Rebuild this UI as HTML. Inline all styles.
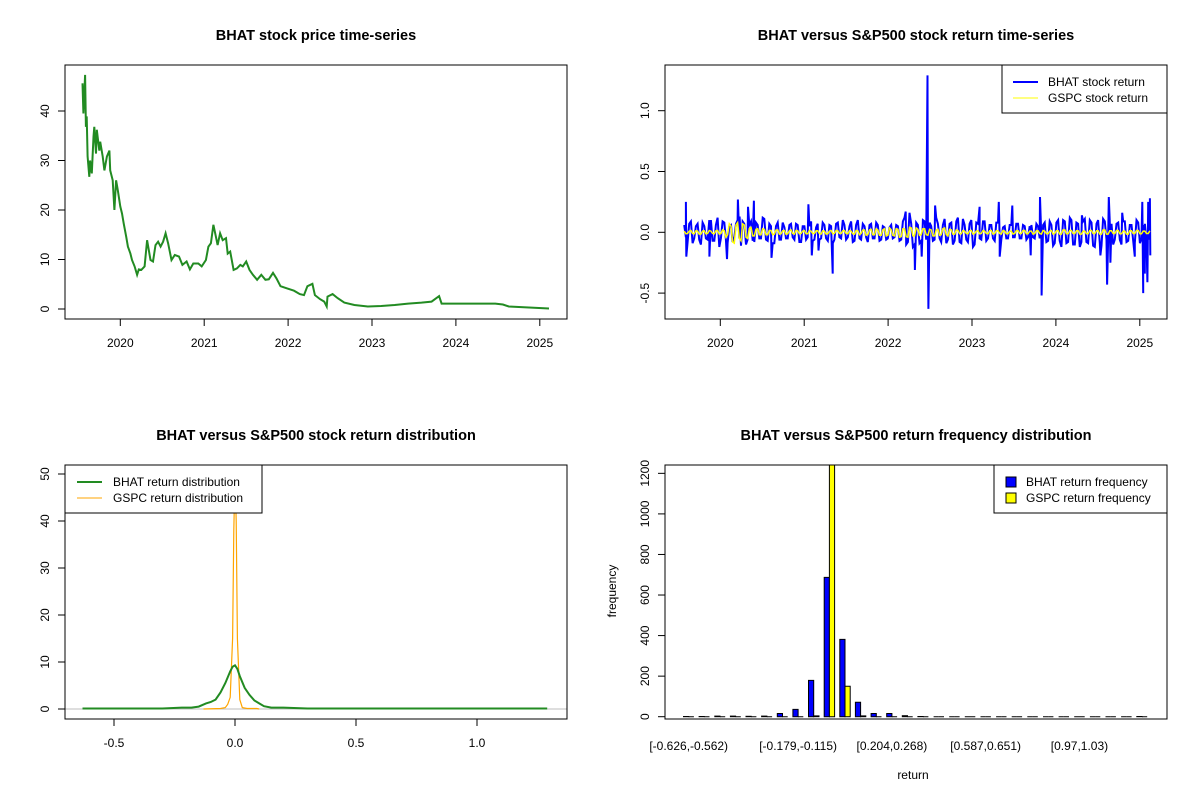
<!DOCTYPE html>
<html><head><meta charset="utf-8">
<style>
html,body{margin:0;padding:0;background:#fff;}
svg{display:block;font-family:"Liberation Sans",Arial,sans-serif;}
</style></head>
<body>
<svg id="root" width="1200" height="800" viewBox="0 0 1200 800" xmlns="http://www.w3.org/2000/svg"></svg>
<script>
// ---------- Panel 1: price ----------
const priceDates=[2019.55,2019.56,2019.58,2019.59,2019.60,2019.61,2019.63,2019.64,2019.66,2019.68,2019.69,2019.71,2019.72,2019.75,2019.76,2019.79,2019.81,2019.84,2019.87,2019.88,2019.91,2019.93,2019.95,2019.97,2020.00,2020.02,2020.04,2020.07,2020.09,2020.12,2020.14,2020.17,2020.20,2020.22,2020.25,2020.29,2020.32,2020.36,2020.39,2020.42,2020.45,2020.48,2020.51,2020.54,2020.57,2020.61,2020.65,2020.70,2020.74,2020.79,2020.83,2020.87,2020.93,2020.97,2021.02,2021.05,2021.08,2021.11,2021.14,2021.16,2021.19,2021.22,2021.26,2021.28,2021.31,2021.35,2021.39,2021.43,2021.46,2021.50,2021.54,2021.58,2021.63,2021.68,2021.73,2021.77,2021.82,2021.86,2021.91,2021.98,2022.07,2022.14,2022.19,2022.23,2022.29,2022.32,2022.38,2022.43,2022.46,2022.47,2022.53,2022.59,2022.67,2022.79,2022.95,2023.11,2023.27,2023.43,2023.59,2023.71,2023.80,2023.83,2023.99,2024.23,2024.47,2024.56,2024.63,2024.87,2025.11];
const priceValues=[45.6,39.5,47.3,36.8,38.9,30.8,26.7,30,27.4,34.8,36.8,31.4,36.2,32,33.8,30.8,28,30.8,32,28,26,20,26,24,20.7,19.3,17.3,14.6,12.6,11.2,9.9,8.6,6.9,8,7.9,8.6,13.9,9.9,9.6,12.9,13.6,12.6,13.6,15.3,13.3,9.9,10.9,10.6,8.9,9.6,8,9.2,9.2,8.6,9.9,12.6,13.3,17,14.6,12.9,15.3,13.9,14.3,11.2,11.6,7.9,8.2,8.9,8.6,9.6,7.9,6.9,5.9,6.9,5.9,6,7.3,6.2,4.6,4.2,3.7,3,2.8,4.6,5.1,2.8,2,1.5,0.5,2.5,3,2.2,1.3,0.8,0.5,0.6,0.8,1.1,1.3,1.5,2.6,1.1,1.1,1.1,1.1,0.9,0.5,0.3,0.1];
const priceTicksY=[0,10,20,30,40];
const yearTicks=[2020,2021,2022,2023,2024,2025];

// ---------- Panel 2: returns ----------
const bhatBaseA=[0.06,-0.08,0.09,-0.05,0.07,-0.1,0.05,-0.06,0.1,-0.07,0.12,-0.05,0.08,-0.09,0.06,-0.04,0.1,-0.11,0.07,-0.06,0.09,-0.08,0.06,-0.05,0.11,-0.07,0.05,-0.09,0.08,-0.06,0.04,-0.05,0.07,-0.06,0.06,-0.08,0.05,-0.04,0.09,-0.06,0.07,-0.05,0.06,-0.07,0.05,-0.06,0.08,-0.05,0.06,-0.04,0.09,-0.07,0.1,-0.06,0.05,-0.08,0.07,-0.05,0.06,-0.06,0.04,-0.05,0.06,-0.04,0.05,-0.06,0.12,-0.08,0.07,-0.1,0.06,-0.07,0.09,-0.05,0.05,-0.06,0.07,-0.08,0.11,-0.06,0.08,-0.07,0.12,-0.09,0.06,-0.08,0.1,-0.1,0.07,-0.06,0.09,-0.05,0.06,-0.07,0.08,-0.06,0.05,-0.05,0.06,-0.04,0.07,-0.05,0.05,-0.04,0.06,-0.05,0.05,-0.06,0.08,-0.07,0.06,-0.09,0.1,-0.12,0.09,-0.08,0.1,-0.1,0.07,-0.08,0.11,-0.09,0.08,-0.12,0.1,-0.11,0.09,-0.08,0.07,-0.06,0.08,-0.1,0.09,-0.07,0.06,-0.09,0.08,-0.05,0.07,-0.06];
const bhatBaseB=[-0.04,0.07,-0.09,0.05,-0.06,0.08,-0.05,0.1,-0.07,0.06,-0.12,0.09,-0.06,0.05,-0.08,0.07,-0.05,0.09,-0.1,0.06,-0.07,0.08,-0.05,0.12,-0.06,0.07,-0.09,0.05,-0.06,0.08,-0.05,0.06,-0.04,0.07,-0.08,0.05,-0.06,0.05,-0.07,0.04,-0.06,0.08,-0.05,0.06,-0.09,0.07,-0.04,0.1,-0.06,0.05,-0.08,0.06,-0.05,0.07,-0.04,0.06,-0.05,0.08,-0.07,0.05,-0.06,0.04,-0.05,0.06,-0.07,0.09,-0.1,0.16,-0.12,0.08,-0.09,0.1,-0.06,0.08,-0.07,0.12,-0.05,0.06,-0.09,0.07,-0.1,0.09,-0.08,0.11,-0.06,0.07,-0.12,0.08,-0.05,0.09,-0.07,0.06,-0.05,0.08,-0.06,0.04,-0.05,0.06,-0.04,0.07,-0.05,0.06,-0.06,0.05,-0.04,0.07,-0.05,0.06,-0.08,0.09,-0.11,0.08,-0.07,0.1,-0.09,0.12,-0.1,0.08,-0.12,0.09,-0.08,0.1,-0.11,0.07,-0.09,0.11,-0.06,0.08,-0.1,0.07,-0.06,0.09,-0.08,0.06,-0.07,0.1,-0.09,0.06,-0.08,0.07];
const bhatSpikeDates=[2019.59,2019.595,2019.87,2020.08,2020.21,2020.23,2020.33,2020.40,2020.61,2021.05,2021.09,2021.17,2021.34,2022.21,2022.32,2022.40,2022.47,2022.48,2022.56,2023.09,2023.32,2023.33,2023.48,2023.70,2023.81,2023.83,2024.31,2024.53,2024.61,2024.63,2024.65,2024.79,2024.94,2025.03,2025.04,2025.06,2025.09,2025.10,2025.12,2025.125];
const bhatSpikeValues=[0.25,-0.20,-0.20,-0.22,0.27,0.13,0.21,0.26,-0.21,0.23,-0.19,-0.15,-0.34,0.17,-0.31,-0.20,1.29,-0.63,0.22,0.21,0.25,-0.20,0.22,-0.19,0.29,-0.52,0.14,-0.19,-0.43,0.29,-0.25,0.16,-0.20,0.25,-0.50,-0.34,-0.41,0.25,0.28,-0.19];
const gspcBaseA=[0.01,-0.01,0.015,-0.012,0.01,-0.015,0.012,-0.01,0.01,-0.012,0.015,-0.01,0.012,-0.02,0.05,-0.09,0.08,-0.07,0.06,-0.05,0.04,-0.03,0.03,-0.02,0.025,-0.02,0.015,-0.015,0.02,-0.012,0.015,-0.012,0.02,-0.015,0.012,-0.01,0.015,-0.012,0.01,-0.01,0.012,-0.015,0.01,-0.012,0.015,-0.01,0.012,-0.01,0.015,-0.012,0.01,-0.015,0.012,-0.01,0.02,-0.02,0.025,-0.02,0.02,-0.025,0.03,-0.025,0.02,-0.03,0.025,-0.035,0.03,-0.04,0.035,-0.03,0.025,-0.02,0.03,-0.025,0.02,-0.03,0.025,-0.02,0.035,-0.03,0.02,-0.015,0.015,-0.012,0.01,-0.012,0.015,-0.01,0.012,-0.01,0.01,-0.012,0.015,-0.01,0.012,-0.015,0.01,-0.012,0.01,-0.01,0.012,-0.01,0.015,-0.012,0.01,-0.01,0.012,-0.015,0.01,-0.012,0.015,-0.01,0.012,-0.015,0.02,-0.012,0.015,-0.01,0.012,-0.015,0.01,-0.012,0.015,-0.01,0.012,-0.015,0.02,-0.015,0.012,-0.01,0.015,-0.012,0.01,-0.015,0.012,-0.01,0.015,-0.012,0.01,-0.01];
const gspcBaseB=[-0.012,0.01,-0.01,0.012,-0.015,0.01,-0.012,0.015,-0.01,0.012,-0.015,0.02,-0.04,0.07,-0.08,0.06,-0.05,0.07,-0.04,0.03,-0.03,0.025,-0.02,0.03,-0.02,0.015,-0.02,0.018,-0.015,0.012,-0.015,0.012,-0.01,0.015,-0.012,0.01,-0.012,0.015,-0.01,0.012,-0.01,0.012,-0.015,0.01,-0.012,0.015,-0.01,0.012,-0.01,0.015,-0.012,0.015,-0.02,0.018,-0.025,0.02,-0.02,0.03,-0.025,0.02,-0.03,0.035,-0.025,0.03,-0.04,0.03,-0.035,0.04,-0.03,0.035,-0.025,0.03,-0.02,0.025,-0.03,0.02,-0.025,0.03,-0.02,0.025,-0.015,0.02,-0.012,0.015,-0.01,0.012,-0.015,0.01,-0.012,0.015,-0.01,0.012,-0.015,0.012,-0.01,0.015,-0.012,0.01,-0.015,0.012,-0.01,0.015,-0.012,0.01,-0.015,0.012,-0.01,0.015,-0.012,0.01,-0.015,0.012,-0.015,0.02,-0.012,0.015,-0.01,0.012,-0.015,0.01,-0.012,0.015,-0.01,0.012,-0.015,0.02,-0.015,0.012,-0.01,0.015,-0.012,0.01,-0.015,0.012,-0.01,0.015,-0.012,0.01,-0.01,0.012];
const returnStart=2019.57, returnEnd=2025.12;
const returnTicksY=[-0.5,0.0,0.5,1.0];

// ---------- Panel 3: densities ----------
const bhatDensX=[-0.63,-0.3,-0.22,-0.18,-0.15,-0.12,-0.1,-0.08,-0.06,-0.04,-0.02,-0.01,0,0.01,0.02,0.04,0.06,0.08,0.1,0.12,0.15,0.2,0.3,0.5,1.0,1.29];
const bhatDensY=[0.1,0.1,0.3,0.3,0.5,1.2,1.5,2,3.5,5.5,8,9,9.3,8.5,7,4.5,3,1.8,1.2,0.6,0.3,0.3,0.1,0.1,0.1,0.1];
const gspcDensX=[-0.13,-0.06,-0.04,-0.03,-0.02,-0.01,-0.005,0,0.005,0.01,0.02,0.03,0.05,0.09,0.1];
const gspcDensY=[0,0.1,0.3,1,2.5,15,38,50,40,15,2,0.3,0.1,0.1,0];
const densTicksX=[-0.5,0.0,0.5,1.0];
const densTicksY=[0,10,20,30,40,50];

// ---------- Panel 4: histogram ----------
const binLabels=["[-0.626,-0.562)","[-0.179,-0.115)","[0.204,0.268)","[0.587,0.651)","[0.97,1.03)"];
const binLabelIdx=[0,7,13,19,25];
const bhatCounts=[1,1,3,3,2,3,16,36,179,687,381,71,16,16,5,1,0,0,0,0,0,0,0,0,0,0,0,0,0,1];
const gspcCounts=[0,0,0,0,0,0,0,0,4,1260,150,4,0,0,0,0,0,0,0,0,0,0,0,0,0,0,0,0,0,0];
const histTicksY=[0,200,400,600,800,1000,1200];

const NS="http://www.w3.org/2000/svg";
const root=document.getElementById('root');
function mk(tag,attrs,parent){const e=document.createElementNS(NS,tag);for(const k in attrs)e.setAttribute(k,attrs[k]);(parent||root).appendChild(e);return e;}
function txt(x,y,s,opts,parent){const t=mk('text',Object.assign({x:x,y:y,'font-size':12,'text-anchor':'middle',fill:'#000'},opts||{}),parent);t.textContent=s;return t;}

function panel(name){
  const g=mk('g',{});
  
  
  return g;
}
const BW=502,BH=254;
function box(g,x,y){const r=mk('rect',{x:x,y:y,width:BW,height:BH,fill:'none',stroke:'#000','stroke-width':1},g);}
function clip(id,x,y){const c=mk('clipPath',{id:id});mk('rect',{x:x,y:y,width:BW,height:BH},c);}

function xTick(g,x,y0,label,dy){const l=mk('line',{x1:x,y1:y0,x2:x,y2:y0+7,stroke:'#000'},g);
  const t=txt(x,y0+dy,label,{},g);}
function yTick(g,x0,y,label){const l=mk('line',{x1:x0-7,y1:y,x2:x0,y2:y,stroke:'#000'},g);
  const t=txt(0,0,label,{transform:'translate('+(x0-20)+','+y+') rotate(-90)',dy:4},g);}
function title(g,x,y,s){const t=txt(x,y,s,{'font-size':14.5,'font-weight':'bold'},g);}

// ===== Panel 1 =====
(function(){
  const g=panel('price-panel');
  const L=65,T=65;
  const xs=d=>120.3+(d-2020)*83.9;
  const ys=v=>309-v*4.95;
  title(g,316,40,'BHAT stock price time-series');
  clip('c1',L,T);
  let pts=priceDates.map((d,i)=>xs(d).toFixed(1)+','+ys(priceValues[i]).toFixed(1)).join(' ');
  const pl=mk('polyline',{points:pts,fill:'none',stroke:'#228B22','stroke-width':2,'clip-path':'url(#c1)'},g);
  
  
  box(g,L,T);
  yearTicks.forEach(y=>xTick(g,xs(y),T+BH,String(y),28));
  priceTicksY.forEach(v=>yTick(g,L,ys(v),String(v)));
})();

// ===== Panel 2 =====
(function(){
  const g=panel('return-panel');
  const L=665,T=65;
  const xs=d=>720.3+(d-2020)*83.9;
  const ys=v=>232.3-v*121.6;
  title(g,916,40,'BHAT versus S&P500 stock return time-series');
  clip('c2',L,T);
  const n=bhatBaseA.length*2;
  const dt=i=>returnStart+(returnEnd-returnStart)*i/(n-1);
  let bp=[];
  bhatBaseA.forEach((v,i)=>bp.push([dt(2*i),v]));
  bhatBaseB.forEach((v,i)=>bp.push([dt(2*i+1),v]));
  bhatSpikeDates.forEach((d,i)=>bp.push([d,bhatSpikeValues[i]]));
  bp.sort((a,b)=>a[0]-b[0]);
  const bl=mk('polyline',{points:bp.map(p=>xs(p[0]).toFixed(1)+','+ys(p[1]).toFixed(1)).join(' '),fill:'none',stroke:'#0000FF','stroke-width':2,'clip-path':'url(#c2)'},g);
  
  
  const m=gspcBaseA.length*2;
  const dg=i=>returnStart+(returnEnd-returnStart)*i/(m-1);
  let gp=[];
  gspcBaseA.forEach((v,i)=>gp.push([dg(2*i),v]));
  gspcBaseB.forEach((v,i)=>gp.push([dg(2*i+1),v]));
  gp.sort((a,b)=>a[0]-b[0]);
  const gl=mk('polyline',{points:gp.map(p=>xs(p[0]).toFixed(1)+','+ys(p[1]).toFixed(1)).join(' '),fill:'none',stroke:'#FFFF00','stroke-width':1.5,'clip-path':'url(#c2)'},g);
  
  
  box(g,L,T);
  yearTicks.forEach(y=>xTick(g,xs(y),T+BH,String(y),28));
  returnTicksY.forEach(v=>yTick(g,L,ys(v),v.toFixed(1)));
  const lg=mk('g',{},g);
  
  
  mk('rect',{x:1002,y:65,width:165,height:48,fill:'#fff',stroke:'#000'},lg);
  const l1=mk('line',{x1:1013,y1:82,x2:1038,y2:82,stroke:'#0000FF','stroke-width':2},lg);
  
  const l2=mk('line',{x1:1013,y1:98,x2:1038,y2:98,stroke:'#FFFF00','stroke-width':1},lg);
  
  txt(1048,86,'BHAT stock return',{'text-anchor':'start'},lg);
  txt(1048,102,'GSPC stock return',{'text-anchor':'start'},lg);
})();

// ===== Panel 3 =====
(function(){
  const g=panel('density-panel');
  const L=65,T=465;
  const xs=v=>235+v*242;
  const ys=v=>709-v*4.7;
  title(g,316,440,'BHAT versus S&P500 stock return distribution');
  clip('c3',L,T);
  const z=mk('line',{x1:L,y1:ys(0),x2:L+BW,y2:ys(0),stroke:'#BEBEBE'},g);
  
  
  const gl=mk('polyline',{points:gspcDensX.map((x,i)=>xs(x).toFixed(1)+','+ys(gspcDensY[i]).toFixed(1)).join(' '),fill:'none',stroke:'#FFA500','stroke-width':1.2,'clip-path':'url(#c3)'},g);
  
  
  const bl=mk('polyline',{points:bhatDensX.map((x,i)=>xs(x).toFixed(1)+','+ys(bhatDensY[i]).toFixed(1)).join(' '),fill:'none',stroke:'#228B22','stroke-width':2,'clip-path':'url(#c3)'},g);
  
  
  box(g,L,T);
  densTicksX.forEach(v=>xTick(g,xs(v),T+BH,v.toFixed(1),28));
  densTicksY.forEach(v=>yTick(g,L,ys(v),String(v)));
  const lg=mk('g',{},g);
  
  
  mk('rect',{x:65,y:465,width:197,height:48,fill:'#fff',stroke:'#000'},lg);
  const l1=mk('line',{x1:77,y1:482,x2:102,y2:482,stroke:'#228B22','stroke-width':2},lg);
  
  const l2=mk('line',{x1:77,y1:498,x2:102,y2:498,stroke:'#FFA500','stroke-width':1},lg);
  
  txt(113,486,'BHAT return distribution',{'text-anchor':'start'},lg);
  txt(113,502,'GSPC return distribution',{'text-anchor':'start'},lg);
})();

// ===== Panel 4 =====
(function(){
  const g=panel('histogram-panel');
  const L=665,T=465;
  const xu=u=>688.7+(u-2)*5.21;
  const ys=v=>716.7-v*0.2028;
  const W=5.21;
  title(g,916,440,'BHAT versus S&P500 return frequency distribution');
  clip('c4',L,T);
  function bar(x,c,fill){
    const y0=ys(0),y1=ys(c);
    return mk('path',{d:'M'+x.toFixed(1)+','+y0.toFixed(1)+'V'+y1.toFixed(1)+'H'+(x+W).toFixed(1)+'V'+y0.toFixed(1)+'Z',fill:fill,stroke:'#000','stroke-width':1,'clip-path':'url(#c4)'},g);
  }
  bhatCounts.forEach((c,i)=>{
    const r=bar(xu(1+3*i),c,'#0000FF');
    
    
  });
  gspcCounts.forEach((c,i)=>{
    const r=bar(xu(2+3*i),c,'#FFFF00');
    
    
  });
  box(g,L,T);
  binLabelIdx.forEach((b,k)=>{
    const t=txt(xu(2+3*b),750,binLabels[k],{},g);
    
    
  });
  histTicksY.forEach(v=>yTick(g,L,ys(v),String(v)));
  const xt=txt(913,779,'return',{},g);
  
  
  const yt=txt(0,0,'frequency',{transform:'translate(616,591) rotate(-90)'},g);
  
  
  const lg=mk('g',{},g);
  
  
  mk('rect',{x:994,y:465,width:173,height:48,fill:'#fff',stroke:'#000'},lg);
  const s1=mk('rect',{x:1006,y:477,width:10,height:10,fill:'#0000FF',stroke:'#000'},lg);
  
  const s2=mk('rect',{x:1006,y:493,width:10,height:10,fill:'#FFFF00',stroke:'#000'},lg);
  
  txt(1026,486,'BHAT return frequency',{'text-anchor':'start'},lg);
  txt(1026,502,'GSPC return frequency',{'text-anchor':'start'},lg);
})();
</script>
</body></html>
